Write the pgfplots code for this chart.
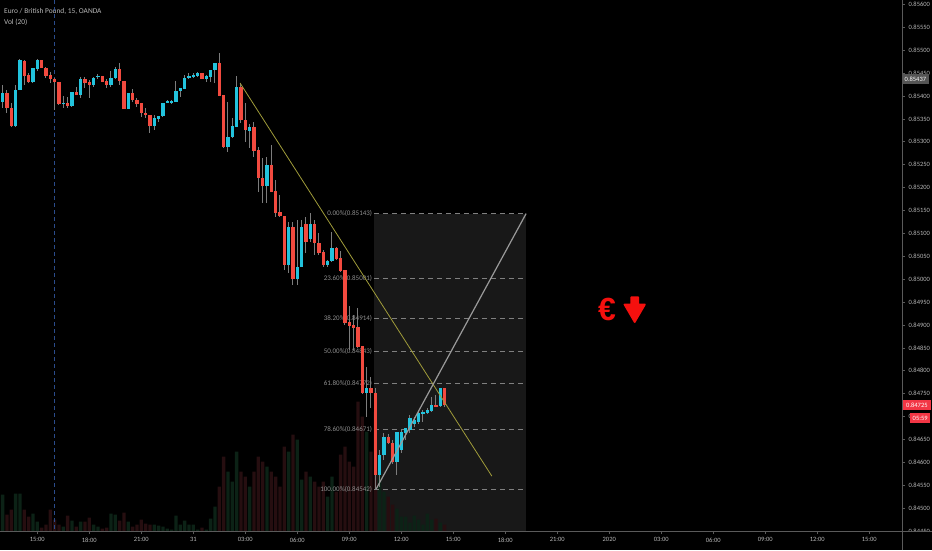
\documentclass[border=0pt]{standalone}
\usepackage{pgfplots}
\pgfplotsset{compat=1.18}
\usepackage{pgfplotstable}
\usepackage{fontspec}
\setmainfont{Carlito}
\newfontfamily\eurofont{Liberation Sans}
\definecolor{upc}{HTML}{22C3DD}
\definecolor{dnc}{HTML}{F24A3F}
\definecolor{wick}{HTML}{7C7C7C}
\definecolor{fibbox}{HTML}{181818}
\definecolor{fibc}{HTML}{808080}
\definecolor{fibt}{HTML}{8F8F8F}
\definecolor{greyl}{HTML}{9A9A9A}
\definecolor{yel}{HTML}{A09C3A}
\definecolor{bluec}{HTML}{2B4C8C}
\definecolor{axtext}{HTML}{B8B8B8}
\definecolor{axisc}{HTML}{5A5A5A}
\definecolor{volup}{HTML}{0C2216}
\definecolor{voldn}{HTML}{260E10}
\definecolor{boxgrey}{HTML}{555555}
\definecolor{redbox}{HTML}{F23645}
\definecolor{eurored}{HTML}{F5100E}
\newcommand\tkfont{\fontsize{6.5}{7}\selectfont}
\newcommand\fibfont{\fontsize{7}{8}\selectfont}

\pgfplotstableread{
i o h l c v
-8 0.85387 0.85424 0.85374 0.85406 37
-5 0.85334 0.85424 0.85332 0.85413 38
-4 0.85413 0.85481 0.85413 0.85478 38
-1 0.85430 0.85461 0.85428 0.85461 18
0 0.85459 0.85481 0.85454 0.85478 10
6 0.85382 0.85400 0.85374 0.85385 5
8 0.85378 0.85409 0.85376 0.85409 11
10 0.85402 0.85441 0.85396 0.85437 10
13 0.85424 0.85441 0.85420 0.85439 7
14 0.85441 0.85448 0.85437 0.85444 5
17 0.85424 0.85454 0.85420 0.85439 18
18 0.85439 0.85463 0.85437 0.85459 17
21 0.85371 0.85406 0.85371 0.85406 10
27 0.85334 0.85358 0.85326 0.85352 7
28 0.85350 0.85356 0.85343 0.85356 6
29 0.85356 0.85385 0.85354 0.85385 5
30 0.85385 0.85391 0.85385 0.85389 3
31 0.85385 0.85391 0.85382 0.85389 2
32 0.85387 0.85433 0.85387 0.85411 16
33 0.85411 0.85417 0.85398 0.85417 7
34 0.85415 0.85446 0.85415 0.85439 11
35 0.85439 0.85450 0.85437 0.85444 7
36 0.85441 0.85450 0.85439 0.85446 7
37 0.85444 0.85452 0.85441 0.85450 2
39 0.85437 0.85446 0.85430 0.85444 2
40 0.85441 0.85457 0.85430 0.85457 13
41 0.85457 0.85472 0.85428 0.85472 25
44 0.85289 0.85387 0.85278 0.85310 60
45 0.85310 0.85352 0.85308 0.85334 50
46 0.85332 0.85444 0.85332 0.85420 80
49 0.85323 0.85339 0.85286 0.85332 45
53 0.85203 0.85267 0.85166 0.85249 65
58 0.85031 0.85125 0.85013 0.85114 80
60 0.85000 0.85129 0.84987 0.85027 92
61 0.85027 0.85129 0.85027 0.85114 52
63 0.85088 0.85144 0.85081 0.85120 55
67 0.85031 0.85042 0.85027 0.85040 35
68 0.85040 0.85103 0.85037 0.85068 55
76 0.84752 0.84808 0.84699 0.84762 100
79 0.84573 0.84627 0.84546 0.84616 60
80 0.84616 0.84664 0.84605 0.84655 40
83 0.84601 0.84666 0.84573 0.84666 23
84 0.84627 0.84671 0.84621 0.84666 15
85 0.84664 0.84675 0.84649 0.84675 15
86 0.84671 0.84704 0.84664 0.84697 9
87 0.84684 0.84699 0.84677 0.84693 16
88 0.84688 0.84710 0.84684 0.84708 12
89 0.84706 0.84714 0.84688 0.84710 7
90 0.84708 0.84719 0.84706 0.84714 18
91 0.84712 0.84743 0.84710 0.84725 12
93 0.84723 0.84762 0.84721 0.84762 9
}\upT

\pgfplotstableread{
i o h l c v
-7 0.85406 0.85413 0.85363 0.85374 17
-6 0.85374 0.85385 0.85332 0.85334 22
-3 0.85476 0.85478 0.85424 0.85444 22
-2 0.85446 0.85450 0.85428 0.85430 15
1 0.85478 0.85478 0.85461 0.85461 4
2 0.85461 0.85463 0.85439 0.85444 7
3 0.85446 0.85452 0.85428 0.85437 22
4 0.85437 0.85439 0.85369 0.85430 12
5 0.85430 0.85430 0.85380 0.85382 7
7 0.85385 0.85398 0.85374 0.85378 16
9 0.85409 0.85420 0.85402 0.85402 5
11 0.85437 0.85441 0.85417 0.85428 10
12 0.85430 0.85435 0.85396 0.85424 14
15 0.85444 0.85444 0.85430 0.85430 3
16 0.85433 0.85437 0.85417 0.85424 4
19 0.85459 0.85472 0.85424 0.85433 11
20 0.85433 0.85433 0.85371 0.85371 19
22 0.85406 0.85415 0.85387 0.85391 5
23 0.85391 0.85396 0.85376 0.85382 7
24 0.85385 0.85385 0.85354 0.85363 12
25 0.85363 0.85374 0.85352 0.85358 8
26 0.85358 0.85358 0.85319 0.85334 7
38 0.85450 0.85450 0.85437 0.85437 4
42 0.85472 0.85494 0.85400 0.85400 45
43 0.85402 0.85402 0.85286 0.85289 75
47 0.85420 0.85428 0.85341 0.85347 60
48 0.85347 0.85385 0.85299 0.85326 55
50 0.85332 0.85343 0.85267 0.85280 60
51 0.85282 0.85289 0.85190 0.85221 75
52 0.85221 0.85265 0.85166 0.85203 70
54 0.85249 0.85293 0.85190 0.85190 60
55 0.85192 0.85217 0.85136 0.85144 55
56 0.85147 0.85184 0.85136 0.85138 45
57 0.85138 0.85138 0.85020 0.85031 85
59 0.85114 0.85125 0.84987 0.85000 97
62 0.85120 0.85136 0.85057 0.85081 60
64 0.85120 0.85129 0.85053 0.85079 50
65 0.85079 0.85101 0.85053 0.85057 45
66 0.85059 0.85064 0.85027 0.85031 50
69 0.85068 0.85070 0.85042 0.85044 40
70 0.85046 0.85061 0.85016 0.85018 77
71 0.85020 0.85020 0.84900 0.84904 85
72 0.84906 0.84941 0.84845 0.84898 70
73 0.84900 0.84922 0.84845 0.84893 65
74 0.84896 0.84937 0.84850 0.84852 130
75 0.84854 0.84854 0.84749 0.84752 115
77 0.84762 0.84786 0.84719 0.84752 80
78 0.84752 0.84762 0.84542 0.84573 120
81 0.84655 0.84662 0.84640 0.84642 35
82 0.84642 0.84649 0.84597 0.84601 27
92 0.84725 0.84747 0.84721 0.84721 13
94 0.84762 0.84762 0.84721 0.84725 7
}\dnT

\pgfplotsset{
  base/.style={scale only axis, width=902pt, height=531.7pt, at={(0,0)}, anchor=south west, xmin=-8.608, xmax=199.55},
  pr/.style={base, ymin=0.844487, ymax=0.856094},
  candle/.style={draw=none, mark=none, error bars/.cd, y dir=plus, y explicit, error mark=none},
}

\begin{document}
\begin{tikzpicture}[x=1pt,y=1pt]
\fill[black] (0,-18.3) rectangle (932,531.7);

% fib box background
\begin{axis}[pr, hide axis]
\addplot[fill=fibbox, draw=none] coordinates {(77.7,0.85143) (112.8,0.85143) (112.8,0.8444) (77.7,0.8444)} -- cycle;
\end{axis}

% volume
\begin{axis}[base, hide axis, ymin=0, ymax=531.7, ybar, bar width=3.3pt]
\addplot[fill=volup, draw=none, bar shift=0pt] table[x=i, y=v] {\upT};
\addplot[fill=voldn, draw=none, bar shift=0pt] table[x=i, y=v] {\dnT};
\end{axis}

% price
\begin{axis}[pr, clip mode=individual, axis x line=none, axis y line*=right,
  y axis line style={draw=axisc, line width=0.8pt},
  ytick={0.8445,0.845,0.8455,0.846,0.8465,0.847,0.8475,0.848,0.8485,0.849,0.8495,0.85,0.8505,0.851,0.8515,0.852,0.8525,0.853,0.8535,0.854,0.8545,0.855,0.8555,0.856},
  yticklabels={0.84450,0.84500,0.84550,0.84600,0.84650,0.84700,0.84750,0.84800,0.84850,0.84900,0.84950,0.85000,0.85050,0.85100,0.85150,0.85200,0.85250,0.85300,0.85350,0.85400,0.85450,0.85500,0.85550,0.85600},
  tick align=outside, major tick length=3pt,
  ytick style={draw=axisc, line width=0.6pt},
  yticklabel style={font=\tkfont, text=axtext, xshift=0pt}]
% fib levels
\addplot[fibc, dash pattern=on 5pt off 4pt, line width=0.9pt] coordinates {(77.7,0.85143) (112.8,0.85143)};
\addplot[fibc, dash pattern=on 5pt off 4pt, line width=0.9pt] coordinates {(77.7,0.85001) (112.8,0.85001)};
\addplot[fibc, dash pattern=on 5pt off 4pt, line width=0.9pt] coordinates {(77.7,0.84914) (112.8,0.84914)};
\addplot[fibc, dash pattern=on 5pt off 4pt, line width=0.9pt] coordinates {(77.7,0.84843) (112.8,0.84843)};
\addplot[fibc, dash pattern=on 5pt off 4pt, line width=0.9pt] coordinates {(77.7,0.84772) (112.8,0.84772)};
\addplot[fibc, dash pattern=on 5pt off 4pt, line width=0.9pt] coordinates {(77.7,0.84671) (112.8,0.84671)};
\addplot[fibc, dash pattern=on 5pt off 4pt, line width=0.9pt] coordinates {(77.7,0.84542) (112.8,0.84542)};
\node[anchor=east, text=fibt, font=\fibfont, inner sep=0pt] at (axis cs:77.3,0.85143) {0.00\%(0.85143)};
\node[anchor=east, text=fibt, font=\fibfont, inner sep=0pt] at (axis cs:77.3,0.85001) {23.60\%(0.85001)};
\node[anchor=east, text=fibt, font=\fibfont, inner sep=0pt] at (axis cs:77.3,0.84914) {38.20\%(0.84914)};
\node[anchor=east, text=fibt, font=\fibfont, inner sep=0pt] at (axis cs:77.3,0.84843) {50.00\%(0.84843)};
\node[anchor=east, text=fibt, font=\fibfont, inner sep=0pt] at (axis cs:77.3,0.84772) {61.80\%(0.84772)};
\node[anchor=east, text=fibt, font=\fibfont, inner sep=0pt] at (axis cs:77.3,0.84671) {78.60\%(0.84671)};
\node[anchor=east, text=fibt, font=\fibfont, inner sep=0pt] at (axis cs:77.3,0.84542) {100.00\%(0.84542)};
% session line
\addplot[bluec, dash pattern=on 4pt off 3pt, line width=0.8pt] coordinates {(4,0.8444) (4,0.8562)};
% wicks
\addplot[candle, error bar style={draw=wick, solid, line width=1pt}] table[x=i, y=l, y error plus expr=\thisrow{h}-\thisrow{l}] {\upT};
\addplot[candle, error bar style={draw=wick, solid, line width=1pt}] table[x=i, y=l, y error plus expr=\thisrow{h}-\thisrow{l}] {\dnT};
% bodies
\addplot[candle, error bar style={draw=upc, solid, line width=3.3pt}] table[x=i, y=o, y error plus expr=\thisrow{c}-\thisrow{o}] {\upT};
\addplot[candle, error bar style={draw=dnc, solid, line width=3.3pt}] table[x=i, y=c, y error plus expr=\thisrow{o}-\thisrow{c}] {\dnT};
% drawings
\addplot[yel, line width=0.8pt] coordinates {(46.8,0.85428) (104.9,0.84570)};
\addplot[greyl, line width=1.2pt] coordinates {(78.2,0.84542) (112.8,0.85143)};
% price boxes
\node[fill=boxgrey, text=white, anchor=west, font=\tkfont, inner xsep=2.5pt, inner ysep=0pt, minimum height=10pt] at (axis cs:199.55,0.85437) {0.85437};
\node[fill=redbox, text=white, anchor=west, font=\tkfont, inner xsep=3pt, inner ysep=0pt, minimum height=10pt, xshift=1pt] at (axis cs:199.55,0.84725) {0.84725};
\node[fill=redbox, text=white, anchor=west, font=\tkfont, inner xsep=2.5pt, inner ysep=0pt, minimum height=10pt, xshift=8pt] at (axis cs:199.55,0.84697) {05:59};
\end{axis}

% time axis area
\fill[black] (0,-18.3) rectangle (932,0);
\draw[axisc, line width=0.8pt] (902,-18.3) -- (902,0);
\draw[axisc, line width=0.8pt] (0,0) -- (932,0);
\begin{axis}[base, ymin=0, ymax=1, axis y line=none, axis x line*=bottom,
  x axis line style={draw=axisc, line width=0.8pt},
  xtick={0,12,24,36,48,60,72,84,96,108,120,132,144,156,168,180,192},
  xticklabels={15:00,18:00,21:00,31,03:00,06:00,09:00,12:00,15:00,18:00,21:00,2020,03:00,06:00,09:00,12:00,15:00},
  tick align=outside, major tick length=2.5pt,
  xtick style={draw=axisc, line width=0.6pt},
  xticklabel style={font=\tkfont, text=axtext}]
\end{axis}

% titles
\node[anchor=west, text=axtext, font=\fontsize{7.4}{8}\selectfont, inner sep=0pt] at (4,520.7) {Euro / British Pound, 15, OANDA};
\node[anchor=west, text=axtext, font=\fontsize{7.4}{8}\selectfont, inner sep=0pt] at (4,509.4) {Vol (20)};

% euro and arrow
\node[text=eurored, font=\eurofont\bfseries\fontsize{32}{34}\selectfont, inner sep=0pt] at (607,222.2) {€};
\filldraw[eurored, line width=1.6pt, line join=round] (631.2,234.5) -- (638.2,234.5) -- (638.2,227.2) -- (645,227.2) -- (634.7,209.5) -- (624.4,227.2) -- (631.2,227.2) -- cycle;

\pgfresetboundingbox
\path[use as bounding box] (0,-18.3) rectangle (932,531.7);
\end{tikzpicture}
\end{document}
